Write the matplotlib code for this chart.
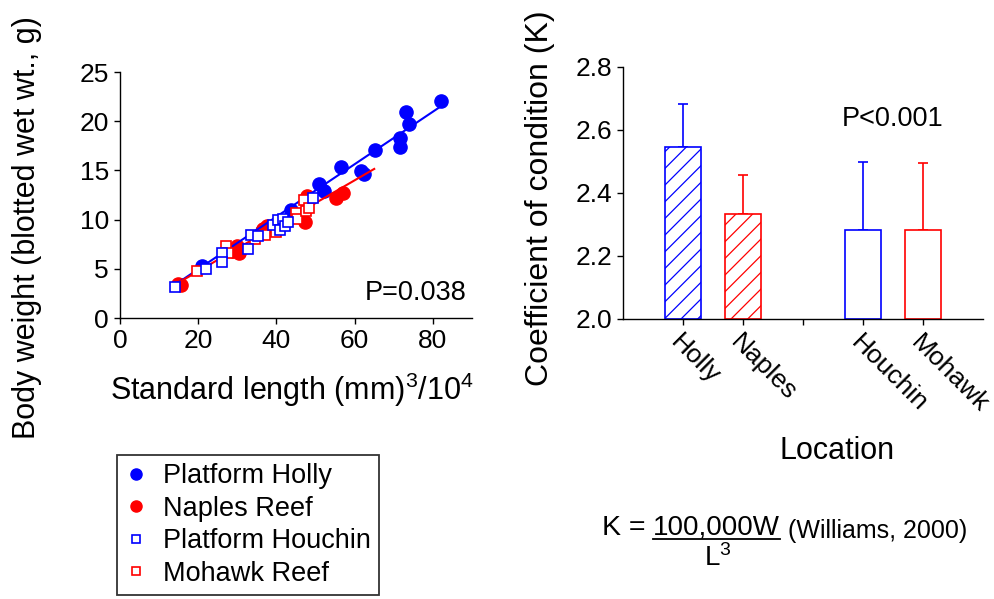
import matplotlib
matplotlib.use("Agg")
import matplotlib.pyplot as plt
from matplotlib.lines import Line2D

plt.rcParams['font.family'] = ['Liberation Sans', 'DejaVu Sans']
plt.rcParams['mathtext.fontset'] = 'custom'
plt.rcParams['mathtext.rm'] = 'Liberation Sans'
plt.rcParams['mathtext.it'] = 'Liberation Sans:italic'
plt.rcParams['hatch.linewidth'] = 0.9

# scatter data: standard length^3/10^4 vs body weight (g)
holly_x = [20.9, 36.2, 43.8, 50.9, 52.1, 56.6, 61.7, 62.5, 65.1, 71.5, 71.7, 73.2, 73.9, 82.0]
holly_y = [5.25, 8.8, 11.0, 13.6, 12.9, 15.3, 14.9, 14.6, 17.1, 17.4, 18.3, 20.9, 19.7, 22.1]
naples_x = [14.9, 15.5, 29.0, 29.8, 30.5, 36.6, 37.5, 47.2, 47.7, 55.3, 57.0]
naples_y = [3.5, 3.4, 6.8, 7.3, 6.6, 9.0, 9.3, 9.8, 12.4, 12.2, 12.7]
houchin_x = [14.0, 22.0, 26.2, 26.2, 32.8, 33.4, 35.3, 39.0, 40.3, 40.9, 41.7, 42.1, 43.0, 49.4]
houchin_y = [3.1, 5.0, 6.6, 5.7, 7.0, 8.4, 8.3, 9.5, 10.0, 8.9, 10.1, 9.3, 9.8, 12.2]
mohawk_x = [19.6, 27.2, 27.7, 34.5, 37.0, 40.0, 44.9, 45.3, 47.0, 47.5, 48.3]
mohawk_y = [4.75, 7.3, 6.6, 8.0, 8.4, 8.7, 10.7, 10.1, 12.0, 10.9, 11.2]

# regression line end points
platform_fit_x = [14.0, 82.0]
platform_fit_y = [3.36, 21.5]
reef_fit_x = [15.0, 65.0]
reef_fit_y = [3.6, 15.15]

# condition factor bars
locations = ['Holly', 'Naples', 'Houchin', 'Mohawk']
k_mean = [2.546, 2.334, 2.284, 2.283]
k_sd = [0.138, 0.124, 0.213, 0.211]

BLUE = '#0000FF'
RED = '#FF0000'
W, H = 995, 599

fig = plt.figure(figsize=(9.95, 5.99), dpi=100)

# ---- left panel ----
ax1 = fig.add_axes([120 / W, 1 - 318 / H, 352 / W, 246 / H])
ax1.plot(holly_x, holly_y, 'o', color=BLUE, ms=9.5, mec=BLUE, zorder=2)
ax1.plot(naples_x, naples_y, 'o', color=RED, ms=9.5, mec=RED, zorder=2)
ax1.plot(platform_fit_x, platform_fit_y, '-', color=BLUE, lw=1.5, zorder=3)
ax1.plot(reef_fit_x, reef_fit_y, '-', color=RED, lw=1.5, zorder=3)
ax1.plot(mohawk_x, mohawk_y, 's', mfc='white', mec=RED, mew=1.2, ms=7, zorder=4)
ax1.plot(houchin_x, houchin_y, 's', mfc='white', mec=BLUE, mew=1.2, ms=7, zorder=5)
ax1.set_xlim(0, 90)
ax1.set_ylim(0, 25)
ax1.set_xticks([0, 20, 40, 60, 80])
ax1.set_yticks([0, 5, 10, 15, 20, 25])
ax1.text(88.5, 1.8, 'P=0.038', ha='right', va='baseline', fontsize=19.5)

# ---- right panel ----
ax2 = fig.add_axes([623 / W, 1 - 319 / H, 360 / W, 252 / H])
bar_pos = [1, 2, 4, 5]
colors = [BLUE, RED, BLUE, RED]
hatches = ['//', '//', '', '']
for p, m, s, c, h in zip(bar_pos, k_mean, k_sd, colors, hatches):
    ax2.bar(p, m - 2.0, bottom=2.0, width=0.6, facecolor='white', edgecolor=c,
            hatch=h, lw=1.2, zorder=2)
    ax2.errorbar(p, m, yerr=[[0], [s]], color=c, elinewidth=1.2, capsize=3.5,
                 capthick=1.2, zorder=1)
ax2.set_xlim(0, 6)
ax2.set_ylim(2.0, 2.8)
ax2.set_yticks([2.0, 2.2, 2.4, 2.6, 2.8])
ax2.set_yticklabels(['2.0', '2.2', '2.4', '2.6', '2.8'])
ax2.set_xticks([1, 2, 3, 4, 5])
ax2.set_xticklabels([locations[0], locations[1], '', locations[2], locations[3]],
                    rotation=-45, ha='left', va='top', rotation_mode='anchor')
ax2.text(3.65, 2.613, 'P<0.001', ha='left', va='baseline', fontsize=19.5)

for ax in (ax1, ax2):
    for side in ('top', 'right'):
        ax.spines[side].set_visible(False)
    for side in ('left', 'bottom'):
        ax.spines[side].set_linewidth(1.0)
    ax.tick_params(direction='out', length=4, width=1, labelsize=19, pad=4)

# axis labels placed as in the original layout
fig.text(27 / W, 1 - 228 / H, 'Body weight (blotted wet wt., g)', rotation=90,
         ha='center', va='center', fontsize=22)
fig.text(292 / W, 1 - 390 / H, 'Standard length (mm)$^3$/10$^4$',
         ha='center', va='center', fontsize=22)
fig.text(540 / W, 1 - 198 / H, 'Coefficient of condition (K)', rotation=90,
         ha='center', va='center', fontsize=23)
fig.text(837 / W, 1 - 451 / H, 'Location', ha='center', va='center', fontsize=22)

# legend
handles = [
    Line2D([], [], ls='', marker='o', color=BLUE, ms=8),
    Line2D([], [], ls='', marker='o', color=RED, ms=8),
    Line2D([], [], ls='', marker='s', mfc='white', mec=BLUE, mew=1.2, ms=6),
    Line2D([], [], ls='', marker='s', mfc='white', mec=RED, mew=1.2, ms=6),
]
labels = ['Platform Holly', 'Naples Reef', 'Platform Houchin', 'Mohawk Reef']
leg = fig.legend(handles, labels, loc='upper left',
                 bbox_to_anchor=(117 / W, 1 - 455 / H), borderaxespad=0,
                 fontsize=19.5, frameon=True, fancybox=False, handlelength=0.8,
                 handletextpad=0.6, labelspacing=0.24, borderpad=0.3)
leg.get_frame().set_edgecolor('black')
leg.get_frame().set_linewidth(1.3)

# formula
fig.text(645 / W, 1 - 535 / H, 'K =', ha='right', va='baseline', fontsize=20.5)
fig.text(716 / W, 1 - 535 / H, '100,000W', ha='center', va='baseline', fontsize=20)
fig.add_artist(Line2D([653 / W, 780 / W], [1 - 539 / H, 1 - 539 / H],
                      color='black', lw=1.3, transform=fig.transFigure))
fig.text(718 / W, 1 - 558 / H, 'L$^3$', ha='center', va='center', fontsize=20)
fig.text(788 / W, 1 - 531 / H, '(Williams, 2000)', ha='left', va='center', fontsize=18)

fig.savefig('out.png', dpi=100)
